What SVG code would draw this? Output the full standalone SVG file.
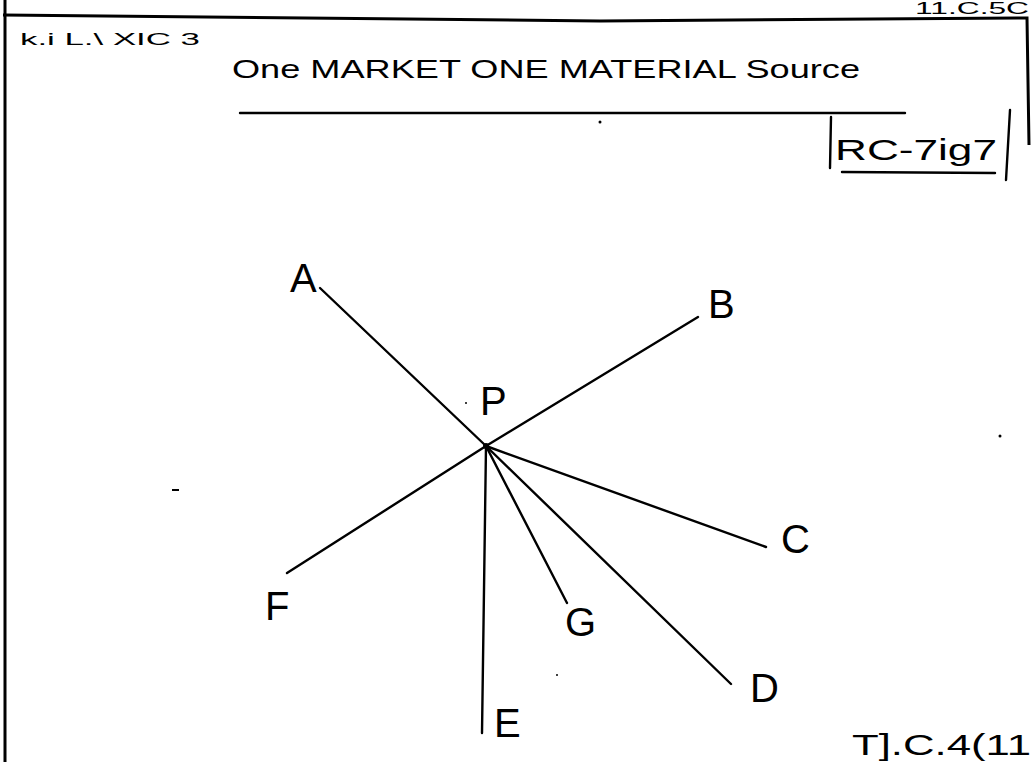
<svg xmlns="http://www.w3.org/2000/svg" width="1031" height="762" viewBox="0 0 1031 762">
<style>
.frame{stroke:#000;stroke-width:3;fill:none}
.ln{stroke:#000;stroke-width:2.4;fill:none;stroke-linecap:round}
.lbl{font-family:"Liberation Sans",Arial,sans-serif;font-size:40px;fill:#000}
.hand{font-family:"Liberation Sans",Arial,sans-serif;fill:#000}
</style>
<rect width="1031" height="762" fill="#fff"/>
<g id="frame">
<path class="frame" d="M5,0 L5,762"/>
<path class="frame" d="M3,15 L600,21 L1027,18 L1029,145"/>
</g>
<text class="hand" x="915" y="14" font-size="17" textLength="114" lengthAdjust="spacingAndGlyphs">11.C.5C</text>
<text class="hand" x="20" y="45" font-size="16" fill="#555" textLength="180" lengthAdjust="spacingAndGlyphs">k.i L.\   XIC 3</text>
<g id="title">
<text class="hand" x="232" y="78" font-size="26" textLength="628" lengthAdjust="spacingAndGlyphs">One MARKET  ONE MATERIAL Source</text>
<path class="ln" d="M240,113 L905,113"/>
</g>
<g id="figref">
<path class="ln" d="M831,117 L830,168"/>
<text class="hand" x="835" y="160" font-size="30" textLength="162" lengthAdjust="spacingAndGlyphs">RC-7ig7</text>
<path class="ln" d="M842,172 L995,173"/>
<path class="ln" d="M1010,110 L1006,180"/>
</g>
<g id="connectors">
<path class="ln" d="M486,446 L320,288"/>
<path class="ln" d="M486,446 L698,317"/>
<path class="ln" d="M486,446 L766,547"/>
<path class="ln" d="M486,446 L287,573"/>
<path class="ln" d="M486,446 L567,603"/>
<path class="ln" d="M486,446 L731,684"/>
<path class="ln" d="M486,446 L482,733"/>
</g>
<g id="P"><circle cx="486" cy="446" r="3" fill="#000"/><text class="lbl" x="480" y="415">P</text></g>
<g id="A"><text class="lbl" x="290" y="292">A</text></g>
<g id="B"><text class="lbl" x="708" y="318">B</text></g>
<g id="C"><text class="lbl" x="781" y="553">C</text></g>
<g id="D"><text class="lbl" x="750" y="702">D</text></g>
<g id="E"><text class="lbl" x="494" y="737">E</text></g>
<g id="F"><text class="lbl" x="265" y="620">F</text></g>
<g id="G"><text class="lbl" x="565" y="636">G</text></g>
<text class="hand" x="852" y="755" font-size="30" textLength="179" lengthAdjust="spacingAndGlyphs">T].C.4(11</text>
<g id="specks" fill="#000">
<circle cx="600" cy="122" r="1.5"/>
<circle cx="466" cy="403" r="1"/>
<circle cx="1000" cy="436" r="1.5"/>
<rect x="172" y="489" width="7" height="2"/>
<circle cx="557" cy="675" r="1"/>
</g>
</svg>
